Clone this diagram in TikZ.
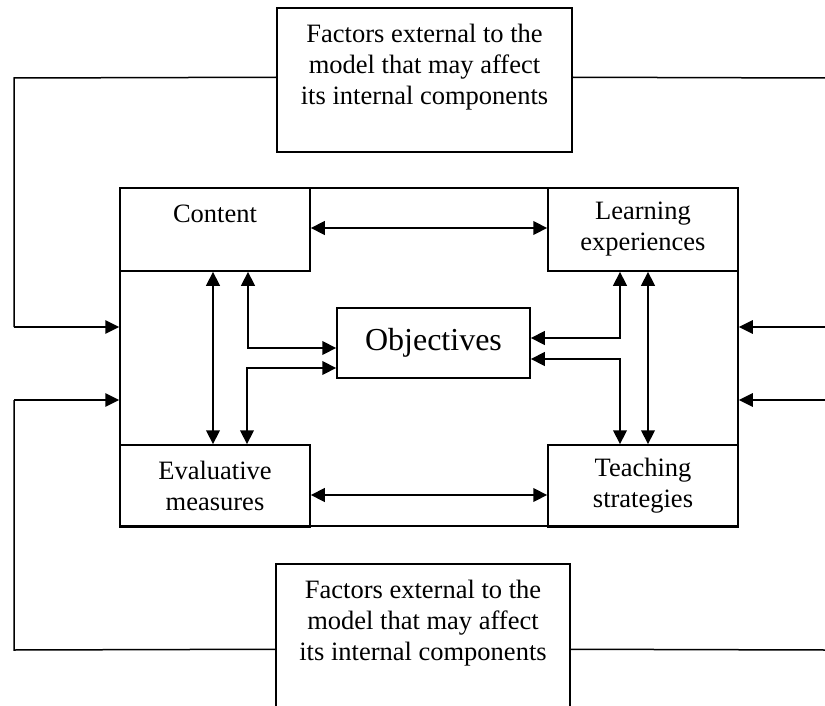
\documentclass[tikz,border=0pt]{standalone}
\usepackage{fontspec}
\setmainfont{Liberation Serif}
\usetikzlibrary{arrows.meta,calc}
\begin{document}
\begin{tikzpicture}[x=1pt,y=-1pt,
  box/.style={draw,line width=1.5pt,rectangle,inner sep=0pt,align=center,font=\fontsize{26.5}{31}\selectfont},
  dbl/.style={line width=2.2pt,{Triangle[length=14pt,width=13.5pt]}-{Triangle[length=14pt,width=13.5pt]}},
  sgl/.style={line width=1.8pt,-{Triangle[length=14pt,width=13.5pt]}},
  plain/.style={line width=1.5pt}]
\clip (0,0) rectangle (825,706);
% boxes
\node[box,minimum width=618pt,minimum height=338pt] (outer) at (429,357) {};
\node[box,minimum width=295pt,minimum height=144pt] (top) at (424.5,80) {Factors external to the\\model that may affect\\its internal components\\~};
\node[box,minimum width=294pt,minimum height=144pt] (bot) at (423,636) {Factors external to the\\model that may affect\\its internal components\\~};
\node[box,minimum width=190pt,minimum height=83pt] (content) at (215,229.5) {Content\\~};
\node[box,minimum width=190pt,minimum height=83pt] (learn) at (643,229.5) {Learning\\experiences};
\node[box,minimum width=190pt,minimum height=82pt] (evalm) at (215,486) {Evaluative\\measures};
\node[box,minimum width=190pt,minimum height=82pt] (teach) at (643,486) {Teaching\\strategies};
\node[box,minimum width=193pt,minimum height=70pt,font=\fontsize{32}{38}\selectfont] (obj) at (433.5,343) {Objectives};
% external loops
\coordinate (tl) at (14,78);
\coordinate (ll) at (14,327);
\draw[plain] ($(top.north west)+(0,70)$) -- (tl) -- (ll);
\draw[sgl] (ll) -- (ll -| outer.west);
\coordinate (tr) at (825,78);
\draw[plain] ($(top.north east)+(0,70)$) -- (tr);
\coordinate (r1) at (825,327);
\coordinate (r2) at (825,400);
\draw[sgl] (r1) -- (r1 -| outer.east);
\draw[sgl] (r2) -- (r2 -| outer.east);
\coordinate (bl) at (14,650);
\coordinate (bl2) at (14,400);
\draw[plain] ($(bot.north west)+(0,86)$) -- (bl) -- (bl2);
\draw[sgl] (bl2) -- (bl2 -| outer.west);
\coordinate (br) at (825,650);
\draw[plain] ($(bot.north east)+(0,86)$) -- (br);
% internal arrows
\draw[dbl] ($(content.east)+(0,-1.5)$) -- ($(learn.west)+(0,-1.5)$);
\draw[dbl] ($(evalm.east)+(0,9)$) -- ($(teach.west)+(0,9)$);
\draw[dbl] ([xshift=-2pt]content.south) -- ([xshift=-2pt]evalm.north);
\coordinate (c1) at (248,348);
\draw[dbl] (content.south -| c1) -- (c1) -- (c1 -| obj.west);
\coordinate (c2) at (247,368);
\draw[dbl] (c2 -| obj.west) -- (c2) -- (evalm.north -| c2);
\coordinate (c3) at (620,338);
\draw[dbl] (learn.south -| c3) -- (c3) -- (c3 -| obj.east);
\coordinate (c4) at (620,359);
\draw[dbl] (c4 -| obj.east) -- (c4) -- (teach.north -| c4);
\coordinate (c5) at (648,300);
\draw[dbl] (learn.south -| c5) -- (teach.north -| c5);
\end{tikzpicture}
\end{document}
